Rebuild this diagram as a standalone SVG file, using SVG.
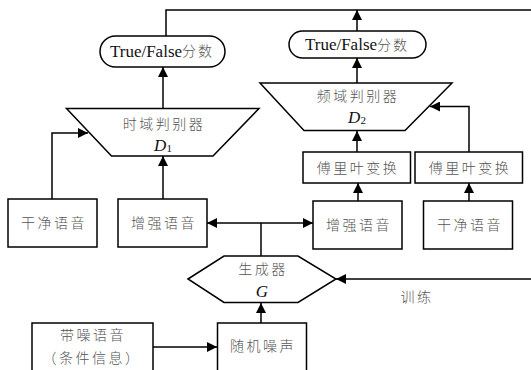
<svg xmlns="http://www.w3.org/2000/svg" width="531" height="370" viewBox="0 0 531 370">
  <defs>
    <marker id="arrow" viewBox="0 0 10 10" refX="10" refY="5" markerWidth="10" markerHeight="10" markerUnits="userSpaceOnUse" orient="auto">
      <path d="M0,0 L10,5 L0,10 Z" fill="#000"/>
    </marker>
    <style>
      .shape { fill: #fff; stroke: #000; stroke-width: 1.5; }
      .line { fill: none; stroke: #000; stroke-width: 1.5; }
      .arr { fill: none; stroke: #000; stroke-width: 1.5; marker-end: url(#arrow); }
      .zh { font-family: "Liberation Serif", "Noto Sans CJK SC", serif; font-size: 14px; font-weight: 300; fill: #555; letter-spacing: 2.5px; text-anchor: middle; dominant-baseline: central; }
      .en { font-family: "Liberation Serif", "Noto Sans CJK SC", serif; font-size: 17px; fill: #111; text-anchor: middle; dominant-baseline: central; }
      .zs { font-size: 14px; font-weight: 300; fill: #555; letter-spacing: 2px; }
      .sym { font-family: "Liberation Serif", serif; font-size: 17px; font-style: italic; fill: #111; text-anchor: middle; dominant-baseline: central; }
      .sub { font-style: normal; font-size: 11px; }
    </style>
  </defs>

  <!-- connectors -->
  <g id="connectors">
    <path class="line" d="M166,36 V10 H531"/>
    <path class="arr" d="M357,31 V10"/>
    <path class="arr" d="M163,108 V67"/>
    <path class="arr" d="M357,83 V58"/>
    <path class="arr" d="M52,199 V133 H88"/>
    <path class="arr" d="M163,199 V156"/>
    <path class="arr" d="M357,152 V131"/>
    <path class="arr" d="M469,152 V106.5 H430"/>
    <path class="arr" d="M358,201 V183"/>
    <path class="arr" d="M469,201 V183"/>
    <path class="line" d="M261,256 V223"/>
    <path class="arr" d="M261,223 H207"/>
    <path class="arr" d="M261,223 H313"/>
    <path class="arr" d="M531,279 H336"/>
    <path class="arr" d="M261,323 V303"/>
    <path class="arr" d="M153,347 H217"/>
  </g>

  <!-- score outputs -->
  <g id="score1">
    <rect class="shape" x="100" y="36" width="125" height="31" rx="15.5"/>
    <text class="en" x="162" y="51">True/False<tspan class="zs">分数</tspan></text>
  </g>
  <g id="score2">
    <rect class="shape" x="289" y="31" width="137" height="27" rx="13.5"/>
    <text class="en" x="357" y="44.5">True/False<tspan class="zs">分数</tspan></text>
  </g>

  <!-- discriminators -->
  <g id="d1">
    <polygon class="shape" points="66.5,108.5 259,108.5 213,156 111.5,156"/>
    <text class="zh" x="164" y="124">时域判别器</text>
    <text class="sym" x="163" y="145">D<tspan class="sub" dy="3">1</tspan></text>
  </g>
  <g id="d2">
    <polygon class="shape" points="260,83 452,83 405,130.5 304,130.5"/>
    <text class="zh" x="358" y="96">频域判别器</text>
    <text class="sym" x="357" y="117">D<tspan class="sub" dy="3">2</tspan></text>
  </g>

  <!-- Fourier transforms -->
  <g id="fft1">
    <rect class="shape" x="303" y="152" width="107.5" height="31"/>
    <text class="zh" x="358" y="168">傅里叶变换</text>
  </g>
  <g id="fft2">
    <rect class="shape" x="415" y="152" width="107.5" height="31"/>
    <text class="zh" x="470" y="168">傅里叶变换</text>
  </g>

  <!-- speech inputs -->
  <g id="clean1">
    <rect class="shape" x="8" y="199" width="89" height="48"/>
    <text class="zh" x="54" y="223">干净语音</text>
  </g>
  <g id="enh1">
    <rect class="shape" x="118" y="199" width="89" height="48"/>
    <text class="zh" x="164" y="223">增强语音</text>
  </g>
  <g id="enh2">
    <rect class="shape" x="313" y="201" width="89" height="48"/>
    <text class="zh" x="359" y="225">增强语音</text>
  </g>
  <g id="clean2">
    <rect class="shape" x="423.5" y="201" width="89" height="48"/>
    <text class="zh" x="470" y="225">干净语音</text>
  </g>

  <!-- generator -->
  <g id="gen">
    <polygon class="shape" points="188,279 224,256 298,256 336,279 298,302.5 224,302.5"/>
    <text class="zh" x="263" y="269">生成器</text>
    <text class="sym" x="262" y="291">G</text>
  </g>
  <text class="zh" x="417" y="297">训练</text>

  <!-- generator inputs -->
  <g id="noisy">
    <rect class="shape" x="32" y="323" width="121" height="60"/>
    <text class="zh" x="93" y="335">带噪语音</text>
    <text class="zh" x="92" y="358">（条件信息）</text>
  </g>
  <g id="noise">
    <rect class="shape" x="217.5" y="323" width="89" height="60"/>
    <text class="zh" x="263" y="346">随机噪声</text>
  </g>
</svg>
